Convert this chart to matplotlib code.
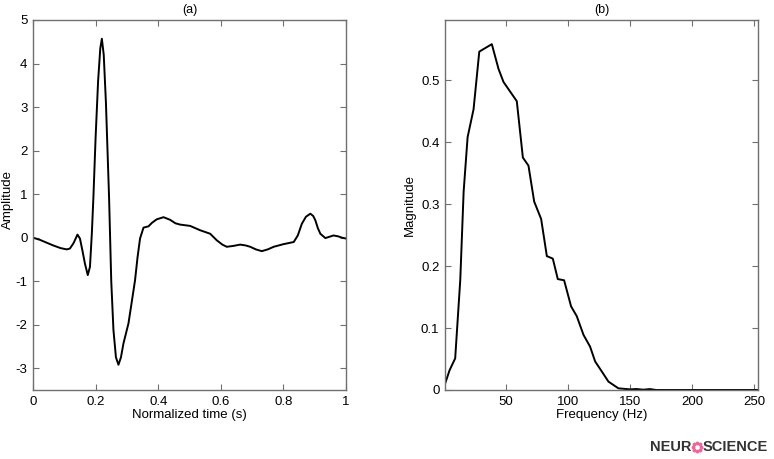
import matplotlib
matplotlib.use("Agg")
import matplotlib.pyplot as plt
import numpy as np

plt.rcParams['font.family'] = ['Liberation Sans', 'DejaVu Sans']
plt.rcParams['axes.unicode_minus'] = False

# ---- Data (a): normalized time vs amplitude ----
time_s = [0.000, 0.022, 0.045, 0.065, 0.088, 0.108, 0.118, 0.130, 0.142, 0.150,
          0.158, 0.166, 0.175, 0.182, 0.188, 0.193, 0.200, 0.208, 0.215, 0.220,
          0.226, 0.233, 0.243, 0.250, 0.257, 0.265, 0.273, 0.281, 0.289, 0.297,
          0.305, 0.315, 0.326, 0.334, 0.342, 0.353, 0.369, 0.380, 0.395, 0.417,
          0.438, 0.455, 0.470, 0.502, 0.534, 0.566, 0.587, 0.605, 0.619, 0.640,
          0.662, 0.680, 0.694, 0.712, 0.731, 0.750, 0.769, 0.800, 0.833, 0.846,
          0.859, 0.872, 0.886, 0.895, 0.902, 0.910, 0.918, 0.934, 0.947, 0.960,
          0.975, 0.987, 1.000]
amplitude = [0.00, -0.05, -0.12, -0.18, -0.24, -0.27, -0.25, -0.12, 0.07, -0.02,
             -0.30, -0.60, -0.86, -0.67, 0.10, 0.93, 2.30, 3.60, 4.35, 4.57,
             4.20, 3.10, 0.93, -1.00, -2.12, -2.75, -2.92, -2.75, -2.43, -2.20,
             -1.97, -1.50, -0.98, -0.45, -0.02, 0.23, 0.26, 0.34, 0.42, 0.47,
             0.41, 0.33, 0.30, 0.27, 0.17, 0.09, -0.06, -0.16, -0.21, -0.19,
             -0.16, -0.18, -0.21, -0.27, -0.31, -0.27, -0.21, -0.15, -0.10, 0.05,
             0.32, 0.48, 0.55, 0.50, 0.40, 0.22, 0.09, -0.01, 0.02, 0.05,
             0.03, 0.00, -0.02]

# ---- Data (b): frequency vs magnitude ----
freq_hz = [1.2, 4.7, 9.2, 13.3, 16.0, 19.2, 24.0, 28.6, 38.7, 44.1,
           48.1, 58.8, 63.7, 68.2, 72.8, 78.4, 83.0, 87.8, 91.8, 96.9,
           102.5, 107.1, 112.5, 117.8, 121.9, 127.2, 132.6, 140.6, 150.0, 155.0,
           160.7, 166.0, 171.0, 200.0, 253.0]
magnitude = [0.011, 0.032, 0.051, 0.178, 0.320, 0.408, 0.453, 0.546, 0.558, 0.518,
             0.497, 0.466, 0.375, 0.362, 0.304, 0.276, 0.216, 0.212, 0.179, 0.177,
             0.135, 0.119, 0.089, 0.070, 0.046, 0.030, 0.0135, 0.0027, 0.001, 0.0016,
             0.0005, 0.0015, 0.0, 0.0, 0.0]

x_ticks_a = [0, 0.2, 0.4, 0.6, 0.8, 1]
x_ticklabels_a = ['0', '0.2', '0.4', '0.6', '0.8', '1']
y_ticks_a = [5, 4, 3, 2, 1, 0, -1, -2, -3]
x_ticks_b = [50, 100, 150, 200, 250]
y_ticks_b = [0, 0.1, 0.2, 0.3, 0.4, 0.5]
y_ticklabels_b = ['0', '0.1', '0.2', '0.3', '0.4', '0.5']

W, H = 774, 459
fig = plt.figure(figsize=(W / 100, H / 100), dpi=100)

def px_axes(l, t, r, b):
    return fig.add_axes([l / W, 1 - b / H, (r - l) / W, (b - t) / H])

ax1 = px_axes(33, 20, 346, 390)
ax2 = px_axes(445, 20, 758, 390)

for ax in (ax1, ax2):
    for s in ax.spines.values():
        s.set_color('#707070')
        s.set_linewidth(1.0)
    ax.tick_params(direction='in', length=4, width=0.8, color='#707070',
                   top=True, right=True, labelsize=9.5, pad=4, labelcolor='black')

ax1.plot(time_s, amplitude, color='black', lw=1.4)
ax1.set_xlim(0, 1)
ax1.set_ylim(-3.5, 5)
ax1.set_xticks(x_ticks_a)
ax1.set_xticklabels(x_ticklabels_a)
ax1.set_yticks(y_ticks_a)
ax1.set_title('(a)', fontsize=9, pad=5)
ax1.set_xlabel('Normalized time (s)', fontsize=9.5, labelpad=1)
ax1.set_ylabel('Amplitude', fontsize=9.5)
ax1.yaxis.set_label_coords((14 - 33) / 313, 0.515)

ax2.plot(freq_hz, magnitude, color='black', lw=1.4)
ax2.set_xlim(1, 253)
ax2.set_ylim(0, 0.597)
ax2.set_xticks(x_ticks_b)
ax2.set_yticks(y_ticks_b)
ax2.set_yticklabels(y_ticklabels_b)
ax2.set_title('(b)', fontsize=9, pad=5)
ax2.set_xlabel('Frequency (Hz)', fontsize=9.5, labelpad=1)
ax2.set_ylabel('Magnitude', fontsize=9.5)
ax2.yaxis.set_label_coords((416 - 445) / 313, 0.5)

# ---- Logo ----
fig.text(650 / W, 1 - 447 / H, 'NEUR', fontsize=10.5, fontweight='bold',
         color='#333333', va='center', ha='left')
fig.text(703 / W, 1 - 447 / H, 'SCIENCE', fontsize=10.5, fontweight='bold',
         color='#333333', va='center', ha='left')
ang = np.linspace(0, 2 * np.pi, 9)[:-1]
fig.add_artist(plt.Line2D((697 + 4.0 * np.cos(ang)) / W, (1 - (447 + 4.0 * np.sin(ang)) / H),
                          linestyle='none', marker='o', markersize=1.8,
                          color='#e86a9c', transform=fig.transFigure))

fig.savefig('out.png', dpi=100)
